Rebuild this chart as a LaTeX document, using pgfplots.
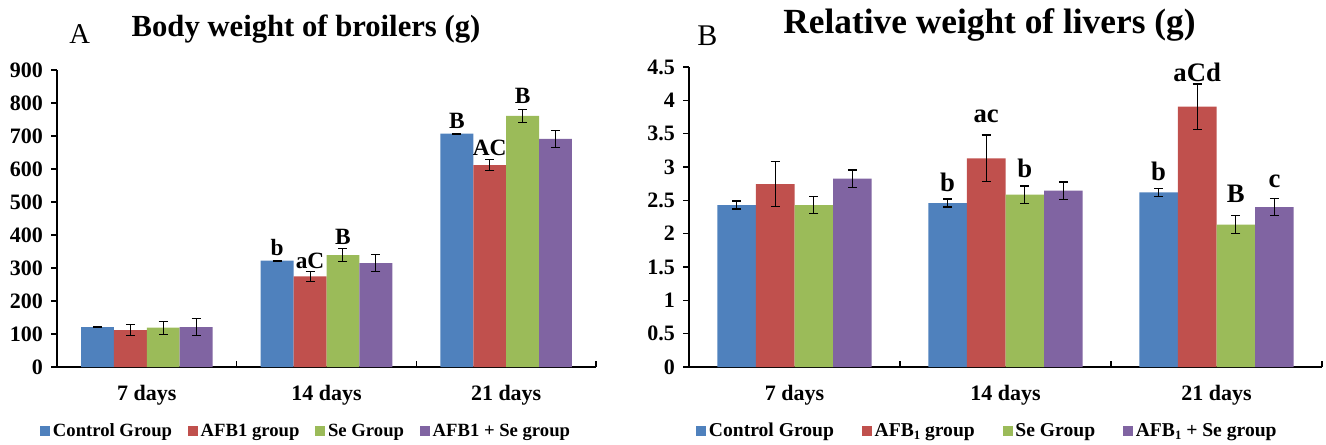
\documentclass[border=0pt]{standalone}
\usepackage{pgfplots}
\pgfplotsset{compat=1.18}
\usepackage{fontspec}
\setmainfont{Liberation Serif}
\definecolor{cblue}{HTML}{4F81BD}
\definecolor{cred}{HTML}{C0504D}
\definecolor{cgreen}{HTML}{9BBB59}
\definecolor{cpurple}{HTML}{8064A2}
\newcommand{\sub}[1]{\raisebox{-0.3ex}{\fontsize{9.5pt}{10pt}\selectfont #1}}
\pgfplotsset{
  eb/.style={
    error bars/y dir=both, error bars/y explicit,
    error bars/error bar style={black, line width=0.8pt},
    error bars/error mark options={rotate=90, mark size=3.4pt, black, line width=0.8pt},
  },
  mybars/.style={
    scale only axis,
    ybar, bar width=0.183,
    ymin=0, xmin=-0.5, xmax=2.5,
    axis x line*=bottom, axis y line*=left,
    axis line style={line width=1.5pt, black},
    tick align=inside,
    major tick length=4.5pt,
    tick style={line width=1.2pt, black},
    y tick style={xshift=-4.5pt},
    xtick={0.5,1.5,2.5}, xticklabels={},
    extra x ticks={0,1,2},
    extra x tick labels={7 days,14 days,21 days},
    extra x tick style={tick style={draw=none}, xticklabel style={yshift=-10pt}},
    ticklabel style={font=\fontsize{16.5pt}{18pt}\selectfont\bfseries},
    /pgf/number format/assume math mode=true,
    yticklabel style={xshift=-7pt},
    clip=false,
    legend columns=4,
    legend image code/.code={\fill[##1,draw=none] (0pt,-3.75pt) rectangle (7.5pt,3.75pt);},
  },
}
\begin{document}
\begin{tikzpicture}
\useasboundingbox (0,0) rectangle (994.5pt,333pt);
% ---------- Panel A ----------
\begin{axis}[mybars,
  at={(42.75pt,57.75pt)}, anchor=south west,
  width=404.25pt, height=222.75pt,
  ymax=900, ytick={0,100,...,900},
  legend style={at={(axis description cs:-0.0315,-0.215)}, anchor=west, draw=none, fill=none,
    font=\fontsize{14pt}{16pt}\selectfont\bfseries,
    /tikz/every even column/.append style={column sep=10pt},
    inner sep=0pt},
]
\addplot[fill=cblue, draw=none, bar shift=-0.2745, eb] coordinates {(0,121) +- (0,2) (1,322) +- (0,2) (2,707) +- (0,2)};
\addplot[fill=cred, draw=none, bar shift=-0.0915, eb] coordinates {(0,112) +- (0,16) (1,275) +- (0,15) (2,612) +- (0,16)};
\addplot[fill=cgreen, draw=none, bar shift=0.0915, eb] coordinates {(0,119) +- (0,20) (1,339) +- (0,20) (2,761) +- (0,20)};
\addplot[fill=cpurple, draw=none, bar shift=0.2745, eb] coordinates {(0,121) +- (0,25) (1,315) +- (0,26) (2,691) +- (0,25)};
\legend{Control Group, AFB1 group, Se Group, AFB1 + Se group}
\begin{scope}[every node/.style={font=\fontsize{17.5pt}{19pt}\selectfont\bfseries, inner sep=0pt}]
\node at (axis cs:0.7255,362) {b};
\node at (axis cs:0.9085,322) {aC};
\node at (axis cs:1.0915,395) {B};
\node at (axis cs:1.7255,745) {B};
\node at (axis cs:1.9085,663) {AC};
\node at (axis cs:2.0915,822) {B};
\end{scope}
\end{axis}
% ---------- Panel B ----------
\begin{axis}[mybars,
  at={(516.75pt,57.75pt)}, anchor=south west,
  width=474.75pt, height=225pt,
  ymax=4.5, ytick={0,0.5,...,4.5},
  legend style={at={(axis description cs:0.011,-0.213)}, anchor=west, draw=none, fill=none,
    font=\fontsize{14.7pt}{16pt}\selectfont\bfseries,
    /tikz/every even column/.append style={column sep=19pt},
    inner sep=0pt},
]
\addplot[fill=cblue, draw=none, bar shift=-0.2745, eb] coordinates {(0,2.43) +- (0,0.06) (1,2.46) +- (0,0.06) (2,2.62) +- (0,0.06)};
\addplot[fill=cred, draw=none, bar shift=-0.0915, eb] coordinates {(0,2.745) +- (0,0.34) (1,3.13) +- (0,0.35) (2,3.905) +- (0,0.34)};
\addplot[fill=cgreen, draw=none, bar shift=0.0915, eb] coordinates {(0,2.43) +- (0,0.13) (1,2.585) +- (0,0.13) (2,2.135) +- (0,0.135)};
\addplot[fill=cpurple, draw=none, bar shift=0.2745, eb] coordinates {(0,2.825) +- (0,0.13) (1,2.645) +- (0,0.13) (2,2.40) +- (0,0.13)};
\legend{Control Group, AFB\sub{1} group, Se Group, AFB\sub{1} + Se group}
\begin{scope}[every node/.style={font=\fontsize{20pt}{22pt}\selectfont\bfseries, inner sep=0pt}]
\node at (axis cs:0.7255,2.775) {b};
\node at (axis cs:0.9085,3.765) {ac};
\node at (axis cs:1.0915,2.975) {b};
\node at (axis cs:1.7255,2.94) {b};
\node at (axis cs:1.9085,4.425) {aCd};
\node at (axis cs:2.0915,2.60) {B};
\node at (axis cs:2.2745,2.78) {c};
\end{scope}
\end{axis}
% ---------- Titles ----------
\node[anchor=base, font=\fontsize{23pt}{25pt}\selectfont\bfseries, inner sep=0pt] at (229.5pt,305.25pt) {Body weight of broilers (g)};
\node[anchor=base west, font=\fontsize{21.5pt}{23pt}\selectfont, inner sep=0pt] at (51.75pt,300.75pt) {A};
\node[anchor=base, font=\fontsize{26.5pt}{28pt}\selectfont\bfseries, inner sep=0pt] at (742.1pt,308.25pt) {Relative weight of livers (g)};
\node[anchor=base west, font=\fontsize{22.5pt}{24pt}\selectfont, inner sep=0pt] at (522.75pt,299.25pt) {B};
\end{tikzpicture}
\end{document}
